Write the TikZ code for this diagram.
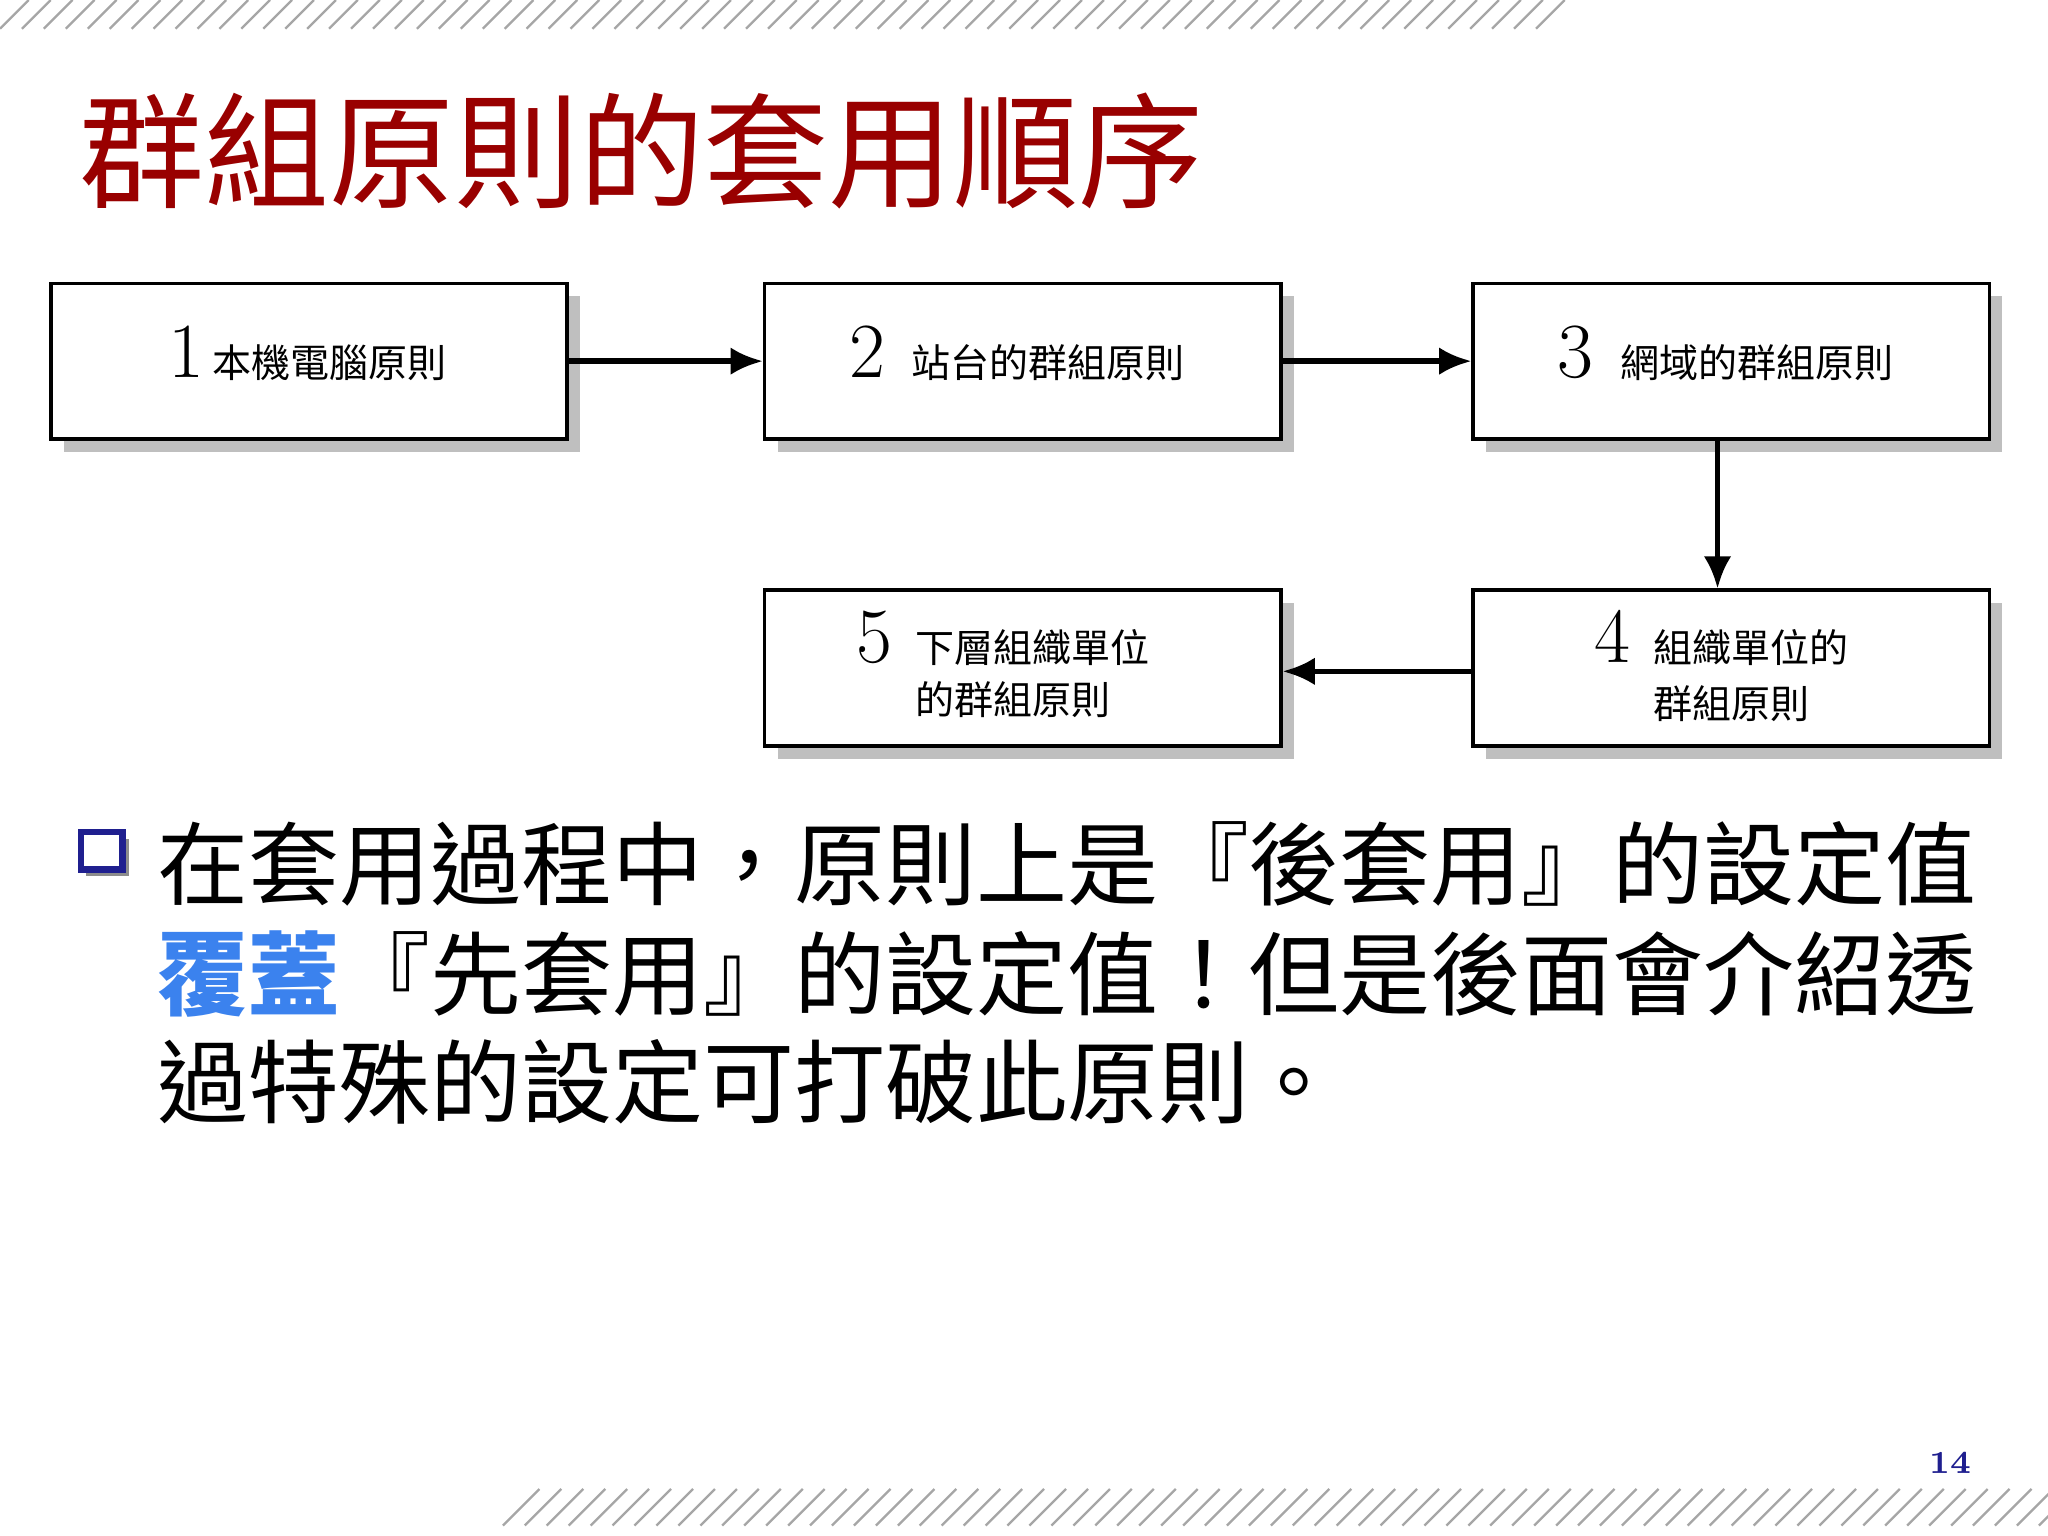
\documentclass[tikz,border=0pt]{standalone}
\usepackage{fontspec}
\newfontfamily\cjk{Noto Sans CJK TC}
\usetikzlibrary{arrows.meta,shadows}
\definecolor{titlered}{HTML}{990000}
\definecolor{blu}{HTML}{3B82EE}
\definecolor{navy}{HTML}{1F1F8F}
\tikzset{
  stepbox/.style={draw=black,line width=0.8pt,fill=white,minimum width=3.95cm,minimum height=1.19cm,inner sep=0pt,
    general shadow={fill=black!25,shadow xshift=0.1cm,shadow yshift=-0.1cm}},
  conn/.style={line width=1.2pt,-{Latex[length=7pt,width=6pt]}},
  boxtxt/.style={font=\cjk\fontsize{8.5}{12}\selectfont},
  hatch/.style={gray!70,line width=0.5pt},
  body/.style={font=\cjk\fontsize{19.8}{24}\selectfont,anchor=base west,inner sep=0pt}
}
\begin{document}
\begin{tikzpicture}[x=0.01cm,y=-0.01cm]
\useasboundingbox (0,0) rectangle (1568,1176);
\fill[white] (0,0) rectangle (1568,1176);
\foreach \i in {0,...,70} {\draw[hatch] ({\i*16.8},22) -- ({\i*16.8+22},0);}
\foreach \i in {0,...,70} {\draw[hatch] ({385+\i*16.8},1168) -- ({385+\i*16.8+28},1140);}
\node[anchor=base west,inner sep=0pt,text=titlered,font=\cjk\fontsize{27.2}{30}\selectfont] (title) at (60,152) {群組原則的套用順序};
\node[stepbox] (b1) at (236.5,276.5) {};
\node[stepbox] (b2) at (783,276.5) {};
\node[stepbox] (b3) at (1325.5,276.5) {};
\node[stepbox] (b5) at (783,511.5) {};
\node[stepbox] (b4) at (1325.5,511.5) {};
\node[anchor=base west,inner sep=0pt,font=\fontsize{17}{17}\selectfont] (n1) at (128,289) {1};
\node[anchor=base west,inner sep=0pt,boxtxt] (t1) at (162,289) {本機電腦原則};
\node[anchor=base west,inner sep=0pt,font=\fontsize{17}{17}\selectfont] (n2) at (650,289) {2};
\node[anchor=base west,inner sep=0pt,boxtxt] (t2) at (697,289) {站台的群組原則};
\node[anchor=base west,inner sep=0pt,font=\fontsize{17}{17}\selectfont] (n3) at (1192,289) {3};
\node[anchor=base west,inner sep=0pt,boxtxt] (t3) at (1240,289) {網域的群組原則};
\node[anchor=base west,inner sep=0pt,font=\fontsize{17}{17}\selectfont] (n5) at (655,507) {5};
\node[anchor=base west,inner sep=0pt,boxtxt] (t5) at (700,507) {下層組織單位};
\node[anchor=base west,inner sep=0pt,boxtxt] (t5b) at (700,547) {的群組原則};
\node[anchor=base west,inner sep=0pt,font=\fontsize{17}{17}\selectfont] (n4) at (1220,507) {4};
\node[anchor=base west,inner sep=0pt,boxtxt] (t4) at (1265,507) {組織單位的};
\node[anchor=base west,inner sep=0pt,boxtxt] (t4b) at (1265,550) {群組原則};
\draw[conn] (b1.east) -- (b2.west);
\draw[conn] (b2.east) -- (b3.west);
\draw[conn] (b3.south -| 1315,0) -- (b4.north -| 1315,0);
\draw[conn] (b4.west |- 0,514) -- (b5.east |- 0,514);
\fill[black!45] (66,642) rectangle (99,671);
\draw[navy,line width=1.5pt,fill=white] (62,637) rectangle (94,666);
\node[body] (l1) at (120,688) {在套用過程中，原則上是『後套用』的設定值};
\node[body] (l2) at (120,772) {\textcolor{blu}{\textbf{覆蓋}}『先套用』的設定值！但是後面會介紹透};
\node[body] (l3) at (120,855) {過特殊的設定可打破此原則。};
\node[anchor=base,inner sep=0pt,text=navy,font=\bfseries\fontsize{7}{8}\selectfont] (pg) at (1493,1128) {14};
\end{tikzpicture}
\end{document}
